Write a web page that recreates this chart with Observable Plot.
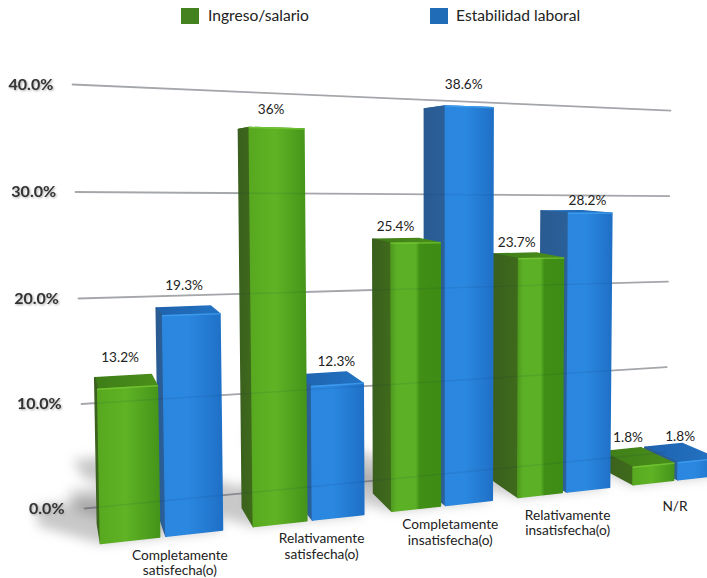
<!DOCTYPE html>
<html lang="es">
<head>
<meta charset="utf-8">
<script src="https://cdn.jsdelivr.net/npm/d3@7"></script>
<script src="https://cdn.jsdelivr.net/npm/@observablehq/plot@0.6"></script>
<style>
  html, body { margin: 0; background: #fff; }
  #legend { position: relative; height: 32px; font: 15.6px Lato, sans-serif; color: #222; }
  #legend span { position: absolute; top: 6px; white-space: nowrap; }
  #legend i { position: absolute; top: 8px; width: 18px; height: 16px; }
</style>
</head>
<body>
<div id="legend"></div>
<div id="chart"></div>
<script>
// Satisfaction survey results, percent of respondents per answer.
const categories = [
  "Completamente\nsatisfecha(o)",
  "Relativamente\nsatisfecha(o)",
  "Completamente\ninsatisfecha(o)",
  "Relativamente\ninsatisfecha(o)",
  "N/R"
];
const ingresoSalario = [13.2, 36, 25.4, 23.7, 1.8];
const estabilidadLaboral = [19.3, 12.3, 38.6, 28.2, 1.8];
const valueLabels = [
  ["13.2%", "36%", "25.4%", "23.7%", "1.8%"],
  ["19.3%", "12.3%", "38.6%", "28.2%", "1.8%"]
];
const gridLevels = [0, 10, 20, 30, 40];

// Hand placement of the value labels around the default spot above each bar: [dx, dy].
const labelNudge = [
  [2, -1], [-7, -4], [8, -2], [3, 6], [-3, 4],
  [2, -5], [-4, 6], [8, 6], [-2, 6], [-4, 9]
];

const W = 707, H = 546;
const yAtZero = 476, pxPerUnit = 10.6;

// Camera model of the 3D scene. The y scale reads percent on the wall's left edge.
const slotX = (t) => (100 + 83 * t) / (1 + 0.026 * t);
const barSpan = 0.75, seriesOffset = 0.83;
const floorY = (x) => -3.3 + 0.010415 * (x - 100);
const unitHeight = (x) => 1.1377 - 0.000363 * x;
const vanish = {x: 40, y: 32.36}, depth = 0.052;
const toBack = (p) => ({x: p.x + depth * (vanish.x - p.x), y: p.y + depth * (vanish.y - p.y)});
// Slight barrel bend of the wall's height axis.
const wallY = (v) => v - 0.00047 * v * (40 - v);

function barGeometry(cat, series, value) {
  const t = 2 * cat + seriesOffset * series;
  const xl = slotX(t), xr = slotX(t + barSpan);
  const corner = (x) => {
    const h = unitHeight(x) * value;
    return {
      bottom: {x, y: floorY(x)},
      top: {x: x + (x - 450) * h * 5.5e-4, y: floorY(x) + h}
    };
  };
  const L = corner(xl), R = corner(xr);
  return {
    cat, series, value, L, R,
    BL: {bottom: toBack(L.bottom), top: toBack(L.top)},
    BR: {bottom: toBack(R.bottom), top: toBack(R.top)}
  };
}

const seriesData = [ingresoSalario, estabilidadLaboral];
const bars = [];
categories.forEach((_, c) => seriesData.forEach((vals, s) => bars.push(barGeometry(c, s, vals[c]))));
const paintOrder = bars.slice().reverse();

const tone = ["g", "b"];
const glint = ["#80d23c", "#4aa8f6"];
const polygon = (id, paint, pts) => pts.map((p) => ({id, paint, x: p.x, y: p.y}));

// Each box is three closed faces plus a lit edge along the front's top, back to front.
const faces = paintOrder.flatMap((b, i) => {
  const k = tone[b.series];
  const front = k === "g" && b.cat >= 2 && b.cat <= 3 ? "g-front-far" : `${k}-front`;
  return [
    ...polygon(`${i}-top`, `url(#${k}-top)`, [b.L.top, b.R.top, b.BR.top, b.BL.top]),
    ...polygon(`${i}-side`, `url(#${k}-side)`, [b.L.top, b.BL.top, b.BL.bottom, b.L.bottom]),
    ...polygon(`${i}-front`, `url(#${front})`, [b.L.top, b.R.top, b.R.bottom, b.L.bottom])
  ];
});
const edges = bars.flatMap((b, i) => [
  {id: i, color: glint[b.series], x: b.L.top.x, y: b.L.top.y},
  {id: i, color: glint[b.series], x: b.R.top.x, y: b.R.top.y}
]);

// Floor shadows stretch to the left in proportion to the bar's value.
const shadows = paintOrder.flatMap((b, i) => {
  const s = (p) => ({x: p.x - 4.7 * b.value, y: p.y + 0.1255 * b.value});
  return polygon(`s${i}`, "#555", [
    b.L.bottom, b.R.bottom, b.BR.bottom, s(b.BR.bottom), s(b.BL.bottom), s(b.L.bottom)
  ]);
});

const grid = gridLevels.flatMap((v) => [
  {v, x: 84 - 0.3 * v, y: wallY(v)},
  {v, x: 665 + 0.125 * v, y: 5.28 + 0.8066 * v}
]);

const labelShift = [-8, 3];
const labels = bars.map((b, i) => ({
  text: valueLabels[b.series][b.cat],
  x: (b.BL.top.x + b.R.top.x) / 2 + labelShift[b.series] + labelNudge[i][0],
  y: Math.max(b.L.top.y, b.BL.top.y, b.BR.top.y) - labelNudge[i][1] / pxPerUnit
}));
const catLabels = bars.filter((b) => b.series === 1).map((b) => {
  const fx = b.L.bottom.x;
  return {
    text: categories[b.cat],
    x: fx + 14 - 0.033 * (fx - 166),
    y: b.L.bottom.y - Math.max(0, fx - 445) * 0.035 / pxPerUnit
  };
});

function gradient(defs, id, stops) {
  const g = defs.append("linearGradient").attr("id", id)
    .attr("x1", 0).attr("y1", 0).attr("x2", 1).attr("y2", 0);
  stops.forEach(([o, c]) => g.append("stop").attr("offset", o).attr("stop-color", c));
}

const defsMark = () => {
  const defs = d3.create("svg:defs");
  gradient(defs, "g-front", [[0, "#57a81f"], [0.45, "#5fb324"], [1, "#45941a"]]);
  gradient(defs, "g-front-far", [[0, "#4f9a1f"], [0.12, "#5cb025"], [0.5, "#5cb025"], [0.58, "#408e15"], [1, "#3f8c14"]]);
  gradient(defs, "g-side", [[0, "#3a5f1e"], [1, "#3f6b1b"]]);
  gradient(defs, "g-top", [[0, "#3f7d18"], [1, "#4a8f1a"]]);
  gradient(defs, "b-front", [[0, "#2a86de"], [0.4, "#2b88e0"], [1, "#1f70c6"]]);
  gradient(defs, "b-side", [[0, "#2a5a92"], [1, "#2b6099"]]);
  gradient(defs, "b-top", [[0, "#1f62ad"], [1, "#2273c4"]]);
  return defs.node();
};

const chart = Plot.plot({
  width: W,
  height: H,
  marginTop: 0, marginRight: 0, marginBottom: 0, marginLeft: 0,
  style: {fontFamily: "Lato, sans-serif", background: "transparent", overflow: "hidden"},
  x: {domain: [0, W], range: [0, W], axis: null},
  y: {domain: [(yAtZero - H) / pxPerUnit, yAtZero / pxPerUnit], range: [H, 0], axis: null},
  marks: [
    defsMark,
    Plot.line(grid, {x: "x", y: "y", z: "v", stroke: "#b2b2b2", strokeWidth: 1.8, imageFilter: "blur(0.4px)"}),
    Plot.line(shadows, {
      x: "x", y: "y", z: "id",
      fill: "#555", fillOpacity: 0.32, stroke: "none",
      curve: "linear-closed", imageFilter: "blur(6px)"
    }),
    Plot.line(faces, {
      x: "x", y: "y", z: "id",
      fill: {value: "paint", scale: null}, stroke: {value: "paint", scale: null},
      strokeWidth: 1.5, curve: "linear-closed"
    }),
    Plot.line(edges, {
      x: "x", y: "y", z: "id",
      stroke: {value: "color", scale: null}, strokeWidth: 1.5, strokeOpacity: 0.6
    }),
    Plot.line(grid, {x: "x", y: "y", z: "v", stroke: "#06305a", strokeOpacity: 0.09, strokeWidth: 1.4}),
    Plot.text(gridLevels, {
      x: (v) => 64 - 0.28 * v, y: wallY,
      text: (v) => v.toFixed(1) + "%",
      textAnchor: "end", fontSize: 16, fontWeight: 700, fill: "#333",
      imageFilter: "drop-shadow(1px 1px 1px #aaa)"
    }),
    Plot.text(labels, {x: "x", y: "y", text: "text", dy: -16, fontSize: 13.6, fill: "#222"}),
    Plot.text(catLabels, {
      x: "x", y: "y", text: "text", dy: 12,
      lineAnchor: "top", lineHeight: 1.16, fontSize: 13.7, fill: "#222"
    })
  ]
});
document.getElementById("chart").append(chart);

// Legend above the plot.
const legend = d3.select("#legend");
[["Ingreso/salario", "#44821f", 181, 208], ["Estabilidad laboral", "#206cb6", 430, 456]].forEach(([name, color, sx, tx]) => {
  legend.append("i").style("left", sx + "px").style("background", color);
  legend.append("span").style("left", tx + "px").text(name);
});
</script>
</body>
</html>
